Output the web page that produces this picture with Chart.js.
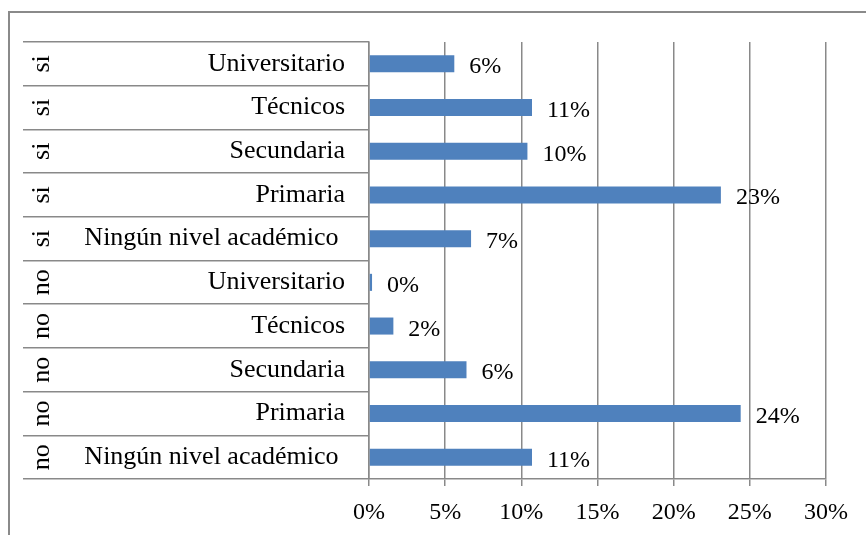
<!DOCTYPE html>
<html>
<head>
<meta charset="utf-8">
<script src="https://cdn.jsdelivr.net/npm/chart.js@4.4.0/dist/chart.umd.min.js"></script>
<style>
  html, body { margin: 0; padding: 0; background: #fff; }
  #wrap { position: relative; width: 866px; height: 535px; overflow: hidden; }
  #marco { position: absolute; left: 8px; top: 11px; width: 900px; height: 600px;
           border-left: 2px solid #8a8a8a; border-top: 2px solid #8a8a8a; }
  canvas { position: absolute; left: 0; top: 0; }
</style>
</head>
<body>
<div id="wrap">
  <div id="marco"></div>
  <canvas id="grafico" width="866" height="535"></canvas>
</div>
<script>
// datos
const niveles = ['Universitario', 'Técnicos', 'Secundaria', 'Primaria', 'Ningún nivel académico ',
                 'Universitario', 'Técnicos', 'Secundaria', 'Primaria', 'Ningún nivel académico '];
const grupos = ['si', 'si', 'si', 'si', 'si', 'no', 'no', 'no', 'no', 'no'];
const porcentajes = [5.6, 10.7, 10.4, 23.1, 6.7, 0.2, 1.6, 6.4, 24.4, 10.7];
const ticksX = [0, 5, 10, 15, 20, 25, 30];

const fuente = "'Liberation Serif', 'Times New Roman', serif";
const gris = '#898989';

// etiquetas de valor al lado de cada barra
const etiquetas = {
  id: 'etiquetas',
  afterDatasetsDraw(chart) {
    const ctx = chart.ctx;
    const meta = chart.getDatasetMeta(0);
    ctx.save();
    ctx.font = '24px ' + fuente;
    ctx.fillStyle = '#000';
    ctx.textAlign = 'left';
    ctx.textBaseline = 'alphabetic';
    meta.data.forEach((barra, i) => {
      ctx.fillText(Math.round(porcentajes[i]) + '%', barra.x + 15, barra.y + 9.5);
    });
    ctx.restore();
  }
};

new Chart(document.getElementById('grafico'), {
  type: 'bar',
  data: {
    labels: niveles,
    datasets: [{
      data: porcentajes,
      backgroundColor: '#4F81BD',
      borderWidth: 0,
      barPercentage: 0.39,
      categoryPercentage: 1
    }]
  },
  options: {
    indexAxis: 'y',
    responsive: false,
    animation: false,
    layout: { padding: { left: 23, top: 42, right: 40, bottom: 0 } },
    plugins: {
      legend: { display: false },
      tooltip: { enabled: false }
    },
    scales: {
      x: {
        min: 0,
        max: 30,
        afterBuildTicks: s => { s.ticks = ticksX.map(v => ({ value: v })); },
        grid: { color: gris, lineWidth: 1.5, tickLength: 7 },
        border: { display: true, color: gris, width: 1.5 },
        ticks: {
          padding: 12,
          color: '#000',
          font: { family: fuente, size: 24 },
          callback: v => v + '%'
        },
        afterFit: s => { s.height = 56; }
      },
      y: {
        type: 'category',
        position: 'left',
        weight: 0,
        offset: true,
        grid: { offset: true, drawOnChartArea: false, tickLength: 292, color: gris, lineWidth: 1.5 },
        border: { display: true, color: gris, width: 1.5 },
        ticks: {
          autoSkip: false,
          padding: -268,
          crossAlign: 'near',
          color: '#000',
          font: { family: fuente, size: 26 }
        },
        afterFit: s => { s.width = 292; }
      },
      grupo: {
        type: 'category',
        position: 'left',
        axis: 'y',
        weight: 1,
        offset: true,
        labels: grupos,
        grid: { offset: true, drawOnChartArea: false, tickLength: 54, color: gris, lineWidth: 1.5 },
        border: { display: false },
        ticks: {
          autoSkip: false,
          minRotation: 90,
          maxRotation: 90,
          padding: -32,
          crossAlign: 'center',
          color: '#000',
          font: { family: fuente, size: 26 }
        },
        afterFit: s => { s.width = 54; }
      }
    }
  },
  plugins: [etiquetas]
});
</script>
</body>
</html>
